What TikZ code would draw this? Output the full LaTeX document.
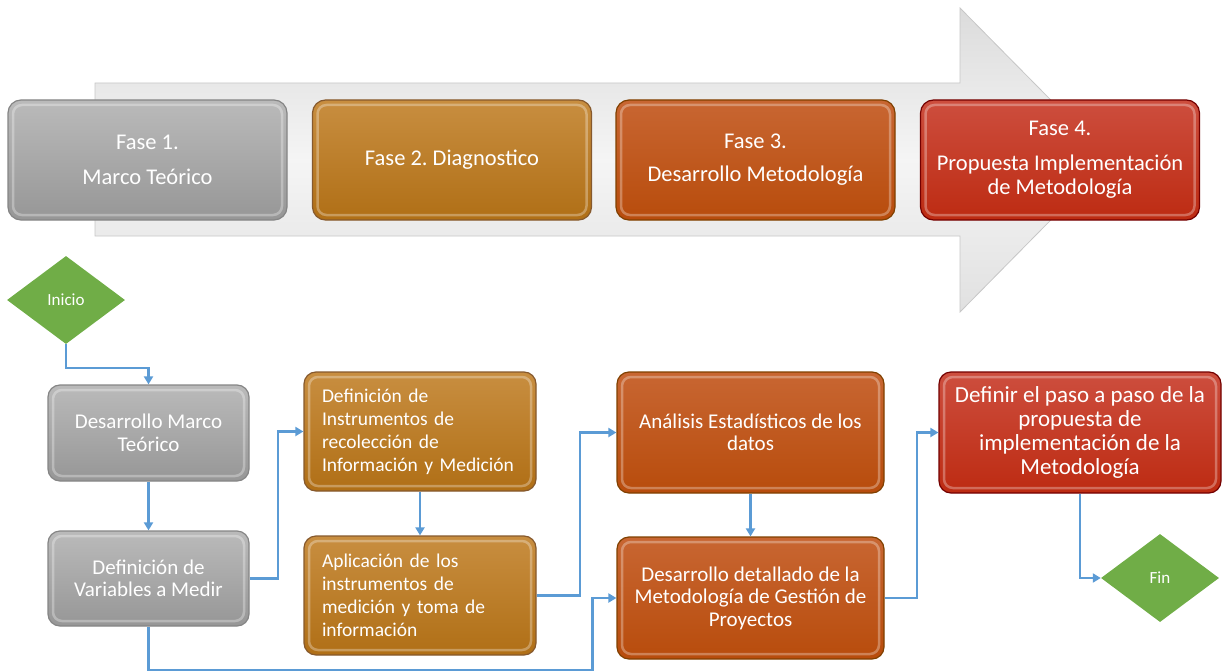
\documentclass[tikz,border=0pt]{standalone}
\usepackage{fontspec}
\setmainfont{Carlito}
\usetikzlibrary{arrows.meta,positioning,calc,shapes.geometric}
\definecolor{linkblue}{HTML}{5B9BD5}
\definecolor{diamgreen}{HTML}{70AD47}
\frenchspacing

\begin{document}
\begin{tikzpicture}[>={Triangle[length=8pt,width=9pt]},x=1pt,y=-1pt,
 bevel/.style={path picture={\draw[white,opacity=0.3,line width=2.5pt,rounded corners=9pt]
   ([shift={(5pt,-5pt)}]path picture bounding box.north west) rectangle
   ([shift={(-5pt,5pt)}]path picture bounding box.south east);}},
 phase/.style={bevel,rounded corners=13pt,line width=1.2pt,text=white,align=center,inner sep=0pt,
   minimum width=279pt,minimum height=120pt,font=\fontsize{22.5}{24}\selectfont},
 stepbox/.style={bevel,rounded corners=12pt,line width=1.2pt,text=white,align=center,inner sep=0pt,
   font=\fontsize{21}{22.5}\selectfont},
 leftbox/.style={stepbox,align=left,text width=196pt,inner xsep=18pt,
   font=\fontsize{19.5}{23}\selectfont},
 gris/.style={draw=black!48,top color=black!27,bottom color=black!41},
 oro/.style={draw=brown!70!black,top color={rgb,255:red,200;green,142;blue,64},bottom color={rgb,255:red,176;green,111;blue,22}},
 naranja/.style={draw=orange!50!black,top color={rgb,255:red,200;green,102;blue,50},bottom color={rgb,255:red,184;green,76;blue,12}},
 rojo/.style={draw=red!45!black,top color={rgb,255:red,205;green,78;blue,62},bottom color={rgb,255:red,189;green,43;blue,18}},
 diam/.style={diamond,fill=diamgreen,text=white,inner sep=0pt,minimum width=118pt,minimum height=88pt,
   font=\fontsize{17}{18}\selectfont},
 link/.style={->,draw=linkblue,line width=2.2pt}]
\useasboundingbox (0,0) rectangle (1225,671);
\shade[top color=black!14,bottom color=black!12,middle color=black!4,draw=black!22,line width=0.8pt]
  (95,83) -- (960,83) -- (960,8) -- (1110,160) -- (960,312) -- (960,236) -- (95,236) -- cycle;
\node[phase,gris] (f1) at (147.500,160.000) {Fase 1.\\[11pt]Marco Teórico};
\node[phase,oro] (f2) at (452.000,160.000) {Fase 2. Diagnostico};
\node[phase,naranja] (f3) at (755.500,160.000) {Fase 3.\\[9pt]Desarrollo Metodología};
\node[phase,rojo] (f4) at (1060.000,160.000) {Fase 4.\\[11pt]Propuesta Implementación\\de Metodología};
\node[diam] (ini) at (66.000,300.000) {Inicio};
\node[stepbox,gris,minimum width=201pt,minimum height=96pt] (dmt) at (148.500,433.000) {Desarrollo Marco\\Teórico};
\node[stepbox,gris,minimum width=201pt,minimum height=95pt] (var) at (148.500,578.500) {Definición de\\Variables a Medir};
\node[leftbox,oro,minimum height=119pt] (ins) at (420.000,431.500) {Definición de\\Instrumentos de\\recolección de\\Información y Medición};
\node[leftbox,oro,minimum height=119pt] (apl) at (420.000,595.500) {Aplicación de los\\instrumentos de\\medición y toma de\\información};
\node[stepbox,naranja,minimum width=267pt,minimum height=121pt] (ana) at (750.500,432.500) {Análisis Estadísticos de los\\datos};
\node[stepbox,naranja,minimum width=267pt,minimum height=122pt] (dd) at (750.500,598.000) {Desarrollo detallado de la\\Metodología de Gestión de\\Proyectos};
\node[stepbox,rojo,minimum width=282pt,minimum height=121pt,font=\fontsize{23}{24.3}\selectfont] (def) at (1080.000,432.500) {Definir el paso a paso de la\\propuesta de\\implementación de la\\Metodología};
\node[diam] (fin) at (1160.000,578.000) {Fin};
\draw[link] (ini.south) -- ++(0,24) -| (dmt.north);
\draw[link] (dmt) -- (var);
\draw[link] (var.east) -- ++(28,0) |- (ins.west);
\draw[link] (ins) -- (apl);
\draw[link] (apl.east) -- ++(43,0) |- (ana.west);
\draw[link] (var.south) -- ++(0,43) -| ([xshift=-24pt]dd.west) -- (dd.west);
\draw[link] (ana) -- (dd);
\draw[link] (dd.east) -- ++(32,0) |- (def.west);
\draw[link] (def.south) |- (fin.west);
\end{tikzpicture}
\end{document}
